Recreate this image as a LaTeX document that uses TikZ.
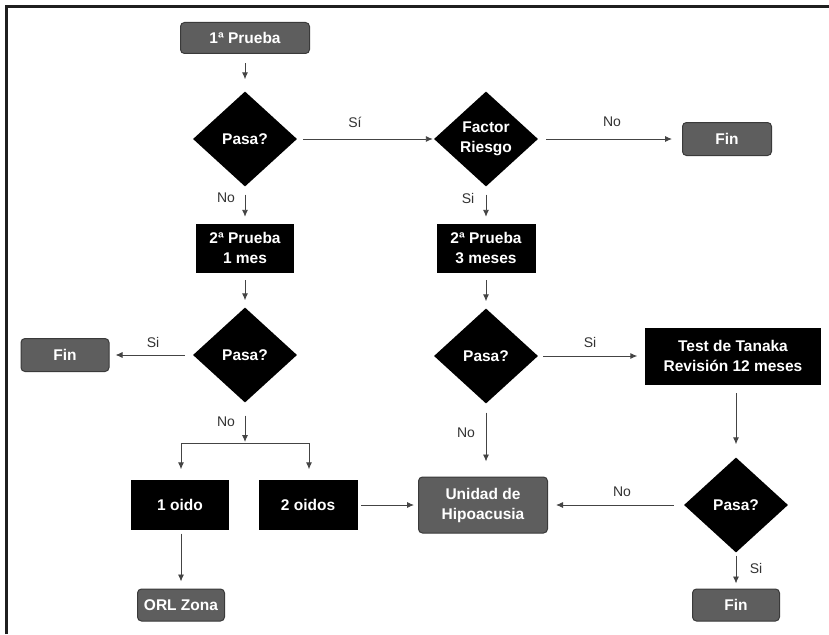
\documentclass[tikz,border=0pt]{standalone}
\usepackage{fontspec}
\setmainfont{Liberation Sans}
\usetikzlibrary{shapes.geometric,arrows.meta}
\definecolor{boxgray}{HTML}{5E5E5E}
\definecolor{edgegray}{HTML}{3A3A3A}
\definecolor{linegray}{HTML}{444444}
\definecolor{labgray}{HTML}{333333}
\begin{document}
\begin{tikzpicture}[x=1pt,y=-1pt,
  font=\fontsize{15}{20}\selectfont,
  endbox/.style={draw=edgegray,fill=boxgray,rounded corners=4pt,text=white,font=\fontsize{15.5}{20}\selectfont\bfseries,line width=1pt,inner sep=0pt,align=center},
  procbox/.style={draw=black,fill=black,text=white,font=\fontsize{15.5}{20}\selectfont\bfseries,inner sep=0pt,align=center},
  decision/.style={diamond,fill=black,text=white,font=\fontsize{15.5}{20}\selectfont\bfseries,inner sep=0pt,minimum width=104pt,minimum height=95pt,align=center},
  arr/.style={draw=linegray,line width=0.9pt,-{Latex[length=7pt,width=6pt]}},
  lab/.style={text=labgray,font=\fontsize{14}{16}\selectfont}]
\useasboundingbox (0,0) rectangle (829,634);
\fill[white] (0,0) rectangle (829,634);
% frame
\draw[line width=3pt,color=black!88] (6.5,634) -- (6.5,6.5) -- (829,6.5);

% nodes
\node[endbox,minimum width=129pt,minimum height=31pt] (p1) at (245,38) {1ª Prueba};
\node[decision] (d1) at (245,139) {Pasa?};
\node[decision] (fr) at (486,139) {Factor\\Riesgo};
\node[endbox,minimum width=89pt,minimum height=33pt] (fin1) at (727,139) {Fin};
\node[procbox,minimum width=97pt,minimum height=48pt] (p2a) at (245,248) {2ª Prueba\\1 mes};
\node[procbox,minimum width=98pt,minimum height=48pt] (p2b) at (486,248) {2ª Prueba\\3 meses};
\node[decision] (d4) at (245,355) {Pasa?};
\node[decision] (d2) at (486,356) {Pasa?};
\node[endbox,minimum width=88pt,minimum height=33pt] (fin2) at (65,355) {Fin};
\node[procbox,minimum width=175pt,minimum height=56pt] (tan) at (733,356) {Test de Tanaka\\Revisión 12 meses};
\node[decision] (d3) at (736,505) {Pasa?};
\node[endbox,minimum width=129pt,minimum height=56pt] (uh) at (483,505) {Unidad de\\Hipoacusia};
\node[endbox,minimum width=87pt,minimum height=32pt] (fin3) at (736,605) {Fin};
\node[procbox,minimum width=97pt,minimum height=49pt] (o1) at (180,505) {1 oido};
\node[procbox,minimum width=98pt,minimum height=49pt] (o2) at (308,505) {2 oidos};
\node[endbox,minimum width=87pt,minimum height=32pt] (orl) at (181,605) {ORL Zona};

% junction coordinates
\coordinate (jn) at (245,443);
\coordinate (jl) at (181,443);
\coordinate (jr) at (309,443);

% connectors
\draw[arr] ([yshift=-9pt]p1.south) -- ([yshift=12pt]d1.north);
\draw[arr] ([xshift=6pt]d1.east) -- ([xshift=-1pt]fr.west);
\node[lab] at (355,122) {Sí};
\draw[arr] ([xshift=8pt]fr.east) -- ([xshift=-10pt]fin1.west);
\node[lab] at (612,122) {No};
\draw[arr] ([yshift=-8pt]fr.south) -- ([yshift=7pt]p2b.north);
\node[lab] at (468,198) {Si};
\draw[arr] ([yshift=-8pt]d1.south) -- ([yshift=7pt]p2a.north);
\node[lab] at (226,198) {No};
\draw[arr] ([yshift=-8pt]p2a.south) -- ([yshift=7pt]d4.north);
\draw[arr] ([yshift=-8pt]p2b.south) -- ([yshift=7pt]d2.north);
\draw[arr] ([xshift=-8pt]d4.west) -- ([xshift=6pt]fin2.east);
\node[lab] at (153,342) {Si};
\draw[arr] ([xshift=5pt]d2.east) -- ([xshift=-8pt]d2.east -| tan.west);
\node[lab] at (590,342) {Si};
\draw[arr] ([yshift=-9pt]d2.south) -- ([yshift=15pt]d2.south |- uh.north);
\node[lab] at (466,433) {No};
\draw[arr] ([yshift=-9pt]d3.north |- tan.south) -- ([yshift=13pt]d3.north);
\draw[arr] ([xshift=-10pt]d3.west) -- ([xshift=8pt]uh.east);
\node[lab] at (622,492) {No};
\draw[arr] ([yshift=-3pt]d3.south) -- ([yshift=5pt]fin3.north);
\node[lab] at (756,568) {Si};
\draw[arr] ([yshift=-13pt]d4.south) -- ([yshift=1pt]jn);
\node[lab] at (226,422) {No};
\draw[draw=linegray,line width=0.9pt] (jl) -- (jr);
\draw[arr] (jl) -- ([yshift=11pt]jl |- o1.north);
\draw[arr] (jr) -- ([yshift=11pt]jr |- o2.north);
\draw[arr] ([xshift=4pt]o2.east) -- ([xshift=-4pt]uh.west);
\draw[arr] ([yshift=-4pt]orl.north |- o1.south) -- ([yshift=7pt]orl.north);
\end{tikzpicture}
\end{document}
